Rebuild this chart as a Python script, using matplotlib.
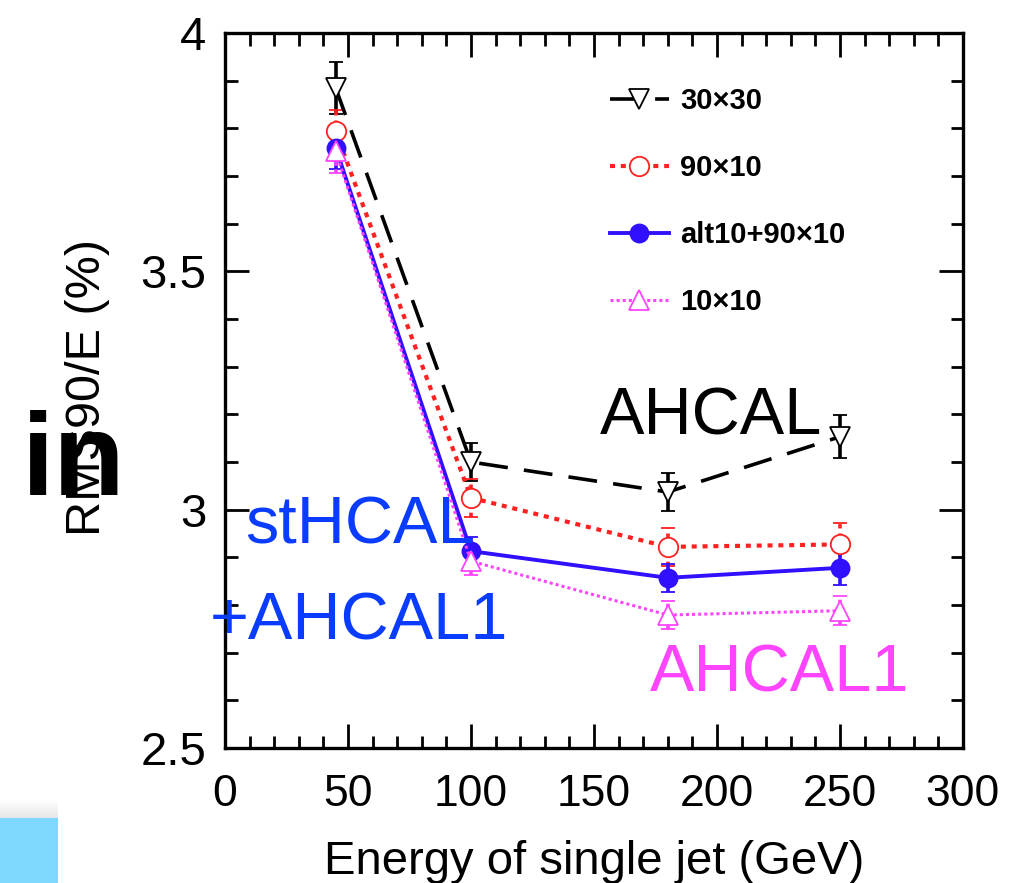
import matplotlib.pyplot as plt
import numpy as np
from matplotlib.patches import Rectangle
from matplotlib.ticker import MultipleLocator

plt.rcParams['font.family'] = ['Liberation Sans', 'DejaVu Sans']

energy = [45, 100, 180, 250]

res_30x30 = [3.885, 3.100, 3.037, 3.153]
err_30x30 = [0.055, 0.040, 0.040, 0.045]

res_90x10 = [3.794, 3.025, 2.922, 2.927]
err_90x10 = [0.045, 0.040, 0.040, 0.045]

res_alt = [3.759, 2.913, 2.857, 2.878]
err_alt = [0.045, 0.030, 0.030, 0.035]

res_10x10 = [3.752, 2.892, 2.779, 2.788]
err_10x10 = [0.045, 0.030, 0.030, 0.030]

labels = ['30\u00d730', '90\u00d710', 'alt10+90\u00d710', '10\u00d710']

fig = plt.figure(figsize=(10.3, 8.83), dpi=100)
ax = fig.add_axes([0.2184, 0.1529, 0.7165, 0.8097])

# (values, errors, colour, line style, error-bar style, marker, face, lw, size)
series = [
    (res_30x30, err_30x30, 'black', (0, (8, 4.5)), '-', 'v', 'white', 2.6, 15),
    (res_90x10, err_90x10, '#ff2020', (0, (1.2, 1.4)), (0, (1.2, 1.4)), 'o', 'white', 3.0, 14),
    (res_alt, err_alt, '#3010ff', '-', '-', 'o', '#3010ff', 2.8, 13),
    (res_10x10, err_10x10, '#ff44ff', (0, (1, 1)), (0, (1, 1)), '^', 'white', 2.2, 14),
]

handles = []
for (y, e, c, ls, els, m, fc, lw, ms), lab in zip(series, labels):
    line, caps, bars = ax.errorbar(energy, y, yerr=e, color=c, ls=ls, lw=lw,
                                   marker=m, ms=ms, mfc=fc, mec=c, mew=1.3,
                                   ecolor=c, elinewidth=2.6, capsize=5,
                                   capthick=2.6, label=lab)
    for b in bars:
        b.set_linestyle(els)
    handles.append(line)

ax.set_xlim(0, 300)
ax.set_ylim(2.5, 4)
ax.xaxis.set_major_locator(MultipleLocator(50))
ax.xaxis.set_minor_locator(MultipleLocator(10))
ax.yaxis.set_major_locator(MultipleLocator(0.5))
ax.yaxis.set_minor_locator(MultipleLocator(0.1))
ax.yaxis.set_major_formatter(plt.FuncFormatter(lambda v, p: f'{v:g}'))

ax.tick_params(which='both', direction='in', top=True, right=True, width=2)
ax.tick_params(which='major', length=17)
ax.tick_params(which='minor', length=9)
ax.tick_params(axis='x', which='major', pad=19, labelsize=32)
ax.tick_params(axis='y', which='major', pad=13.5, labelsize=34)
for s in ax.spines.values():
    s.set_linewidth(2.4)

ax.set_xlabel('Energy of single jet (GeV)', fontsize=34, labelpad=18)

ax.legend(handles, labels, loc='upper left', bbox_to_anchor=(0.522, 0.9245),
          frameon=False, prop={'weight': 'bold', 'size': 21}, handlelength=2.0,
          handletextpad=0.4, labelspacing=1.34, borderpad=0, borderaxespad=0,
          numpoints=1)

# annotations for each calorimeter option
ax.text(152.4, 3.157, 'AHCAL', fontsize=48, color='black')
ax.text(8.1, 2.93, 'stHCAL', fontsize=48, color='#0a3cff')
ax.text(-6.1, 2.727, '+AHCAL1', fontsize=48, color='#0a3cff', clip_on=False)
ax.text(172.8, 2.618, 'AHCAL1', fontsize=48, color='#ff44ff')

fig.text(0.0854, 0.5606, 'RMS90/E (%)', rotation=90, fontsize=35,
         ha='center', va='center')
fig.text(0.021, 0.4394, 'in', fontsize=84, fontweight='bold', va='baseline',
         zorder=5)

fig.patches.append(Rectangle((0, 0), 58 / 1030, 65 / 883, transform=fig.transFigure,
                             facecolor='#7fd8ff', edgecolor='none'))
gax = fig.add_axes([0, 65 / 883, 58 / 1030, 18 / 883])
gax.imshow(np.linspace(1, 0.9, 20)[:, None], cmap='gray', vmin=0, vmax=1,
           aspect='auto', extent=(0, 1, 0, 1), origin='upper')
gax.axis('off')

fig.savefig('out.png', dpi=100)
